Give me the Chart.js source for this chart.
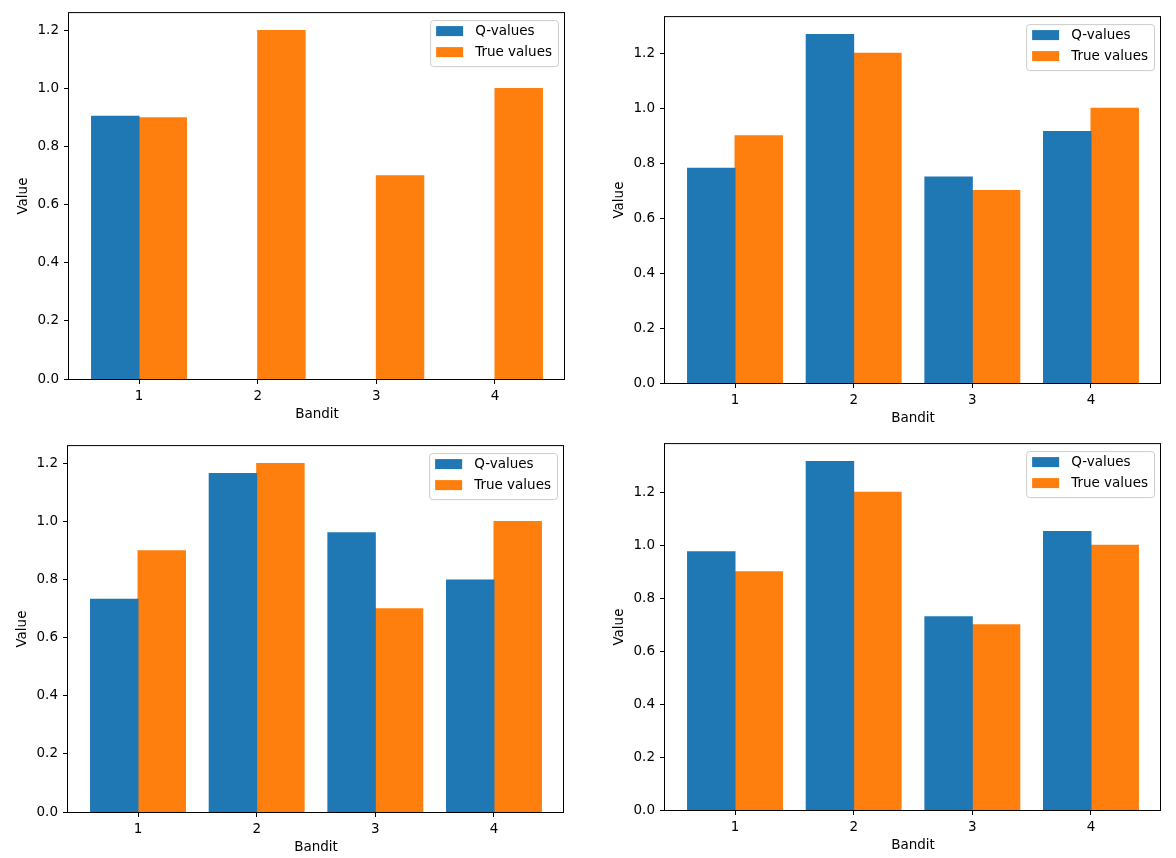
<!DOCTYPE html>
<html>
<head>
<meta charset="utf-8">
<script src="https://cdn.jsdelivr.net/npm/chart.js@4.4.1/dist/chart.umd.min.js"></script>
<style>
  html, body { margin: 0; padding: 0; background: #fff; }
  #fig { position: relative; width: 1176px; height: 858px; overflow: hidden; }
  #fig canvas { position: absolute; }
</style>
</head>
<body>
<div id="fig"></div>
<script>
const bandits = [1, 2, 3, 4];
const trueValues = [0.9, 1.2, 0.7, 1.0];
// Q-value estimates of the four runs
const qValuesA = [0.905, 0, 0, 0];
const qValuesB = [0.781, 1.268, 0.750, 0.915];
const qValuesC = [0.733, 1.166, 0.962, 0.799];
const qValuesD = [0.975, 1.316, 0.730, 1.052];
const yTicks = [0, 0.2, 0.4, 0.6, 0.8, 1.0, 1.2];

const BLUE = '#1f77b4';
const ORANGE = '#ff7f0e';
const FONT = "'DejaVu Sans', sans-serif";
const FONT_SIZE = 13.5;

Chart.defaults.font.family = FONT;
Chart.defaults.font.size = FONT_SIZE;
Chart.defaults.color = '#000';

// plot area of each panel: [left, top, right, bottom] in page pixels
const panels = [
  { q: qValuesA, box: [69, 10, 565, 379] },
  { q: qValuesB, box: [665, 14, 1161, 383] },
  { q: qValuesC, box: [68, 443, 564, 812] },
  { q: qValuesD, box: [665, 441, 1161, 810] },
];

const Y_AXIS_W = 69;
const X_AXIS_H = 45;
const PAD = 10;

// axes frame + matplotlib-style legend in the upper right
const frameAndLegend = {
  id: 'frameAndLegend',
  afterDraw(chart) {
    const { ctx, chartArea: a } = chart;
    ctx.save();
    ctx.strokeStyle = '#000';
    ctx.lineWidth = 1;
    ctx.strokeRect(a.left - 0.5, a.top - 0.5, a.right - a.left, a.bottom - a.top + 1);

    ctx.font = FONT_SIZE + 'px ' + FONT;
    const sets = chart.data.datasets;
    const textW = Math.max(...sets.map(d => ctx.measureText(d.label).width));
    const w = 6 + 27 + 12 + textW + 6;
    const h = 46;
    const x = a.right - 7 - w;
    const y = a.top + 7;
    ctx.beginPath();
    ctx.roundRect(x + 0.5, y + 0.5, w, h, 3);
    ctx.fillStyle = 'rgba(255,255,255,0.8)';
    ctx.fill();
    ctx.strokeStyle = '#cccccc';
    ctx.stroke();
    sets.forEach((d, i) => {
      const py = y + 6 + i * 21;
      ctx.fillStyle = d.backgroundColor;
      ctx.fillRect(x + 6, py, 27, 10);
      ctx.fillStyle = '#000';
      ctx.textBaseline = 'middle';
      ctx.textAlign = 'left';
      ctx.fillText(d.label, x + 45, py + 5.5);
    });
    ctx.restore();
  }
};

const fig = document.getElementById('fig');

panels.forEach(p => {
  const [l, t, r, b] = p.box;
  const left = l - Y_AXIS_W, top = t - PAD;
  const width = r + PAD - left, height = b + X_AXIS_H - top;
  const canvas = document.createElement('canvas');
  canvas.width = width;
  canvas.height = height;
  canvas.style.left = left + 'px';
  canvas.style.top = top + 'px';
  canvas.style.width = width + 'px';
  canvas.style.height = height + 'px';
  fig.appendChild(canvas);

  const yMax = 1.05 * Math.max(...p.q, ...trueValues);

  new Chart(canvas, {
    type: 'bar',
    data: {
      datasets: [
        {
          label: 'Q-values',
          data: bandits.map((v, i) => ({ x: v, y: p.q[i] })),
          backgroundColor: BLUE,
          borderColor: BLUE,
        },
        {
          label: 'True values',
          data: bandits.map((v, i) => ({ x: v, y: trueValues[i] })),
          backgroundColor: ORANGE,
          borderColor: ORANGE,
        }
      ]
    },
    options: {
      responsive: false,
      animation: false,
      devicePixelRatio: 1,
      datasets: {
        bar: {
          categoryPercentage: 0.8,
          barPercentage: 1.0,
          borderWidth: 0,
          // no inflation on zero-height bars, so they stay invisible
          inflateAmount: c => (c.raw && c.raw.y === 0 ? 0 : 0.5)
        }
      },
      layout: { padding: { left: 0, top: PAD, right: PAD, bottom: 0 } },
      plugins: { legend: { display: false }, tooltip: { enabled: false } },
      scales: {
        x: {
          type: 'linear',
          offset: false,
          min: 0.41,
          max: 4.59,
          afterBuildTicks: s => { s.ticks = bandits.map(v => ({ value: v })); },
          afterFit: s => { s.height = X_AXIS_H; },
          grid: { offset: false, drawOnChartArea: false, drawTicks: true, tickLength: 5, color: '#000' },
          border: { display: false },
          ticks: { padding: 4, callback: v => String(v) },
          title: { display: true, text: 'Bandit', padding: { top: 0, bottom: 1 } }
        },
        y: {
          min: 0,
          max: yMax,
          afterBuildTicks: s => { s.ticks = yTicks.map(v => ({ value: v })); },
          afterFit: s => { s.width = Y_AXIS_W; },
          grid: { drawOnChartArea: false, drawTicks: true, tickLength: 5, color: '#000' },
          border: { display: false },
          ticks: { padding: 5, callback: v => v.toFixed(1) },
          title: { display: true, text: 'Value', padding: { top: 15.5, bottom: 0 } }
        }
      }
    },
    plugins: [frameAndLegend]
  });
});
</script>
</body>
</html>
